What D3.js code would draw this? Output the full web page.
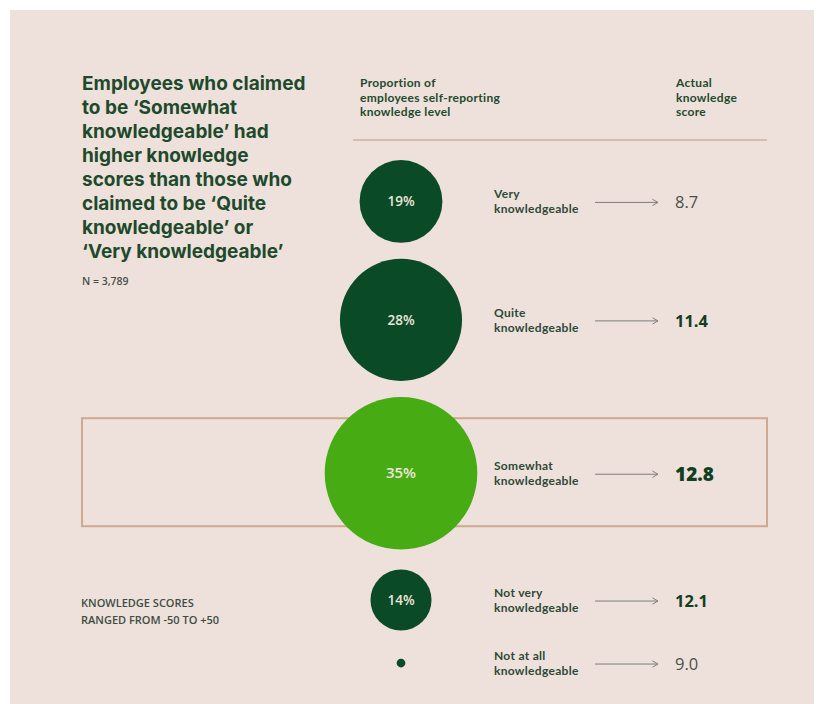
<!DOCTYPE html>
<html><head><meta charset="utf-8">
<script src="https://cdn.jsdelivr.net/npm/d3@7"></script>
<style>
html,body{margin:0;padding:0;background:#fff;}
svg{display:block;}
</style>
</head><body>
<svg id="c" width="818" height="704"></svg>
<script>
// ---- data ----
const categories = ["Very knowledgeable","Quite knowledgeable","Somewhat knowledgeable","Not very knowledgeable","Not at all knowledgeable"];
const categoryLines = [["Very","knowledgeable"],["Quite","knowledgeable"],["Somewhat","knowledgeable"],["Not very","knowledgeable"],["Not at all","knowledgeable"]];
const proportions = [19, 28, 35, 14, 2];
const showPct = [true, true, true, true, false];
const scores = [8.7, 11.4, 12.8, 12.1, 9.0];
const titleLines = ["Employees who claimed","to be \u2018Somewhat","knowledgeable\u2019 had","higher knowledge","scores than those who","claimed to be \u2018Quite","knowledgeable\u2019 or","\u2018Very knowledgeable\u2019"];
const sampleNote = "N = 3,789";
const colHeadLeft = ["Proportion of","employees self-reporting","knowledge level"];
const colHeadRight = ["Actual","knowledge","score"];
const footNote = ["KNOWLEDGE SCORES","RANGED FROM -50 TO +50"];

// ---- drawing ----
const svg = d3.select("#c");
const dark = "#0b4a27", light = "#47ab13", textGreen = "#1e4a2c";
const font = "'Open Sans', sans-serif";
const titleFont = "Inter, 'Open Sans', sans-serif";
const labFont = "Lato, sans-serif";

svg.append("rect").attr("x",10).attr("y",10).attr("width",804).attr("height",694).attr("fill","#eee1dc");

const hi = d3.maxIndex(scores);
const r = d3.scaleLinear().domain([0, 35]).range([0, 76.3]);
const cx = 401;
// stack rows
const gap = 16, minStep = 63;
const cys = [];
proportions.forEach((p,i)=>{
  if(i===0){ cys.push(160 + r(p)); return; }
  let step = Math.max(r(proportions[i-1]) + r(p) + gap, minStep);
  if(i-1===hi) step += 4;
  cys.push(cys[i-1] + step);
});

// highlight box
svg.append("rect").attr("x",82).attr("y",cys[hi]-55).attr("width",685).attr("height",108)
  .attr("fill","none").attr("stroke","#cfa88f").attr("stroke-width",2);

// title
const tg = svg.append("text").attr("font-family",titleFont).attr("font-weight",700).attr("font-size",19).attr("fill",textGreen);
titleLines.forEach((t,i)=>tg.append("tspan").attr("x",82).attr("y",90+24*i).text(t));
svg.append("text").attr("x",82).attr("y",285).attr("font-family",font).attr("font-weight",600)
  .attr("font-size",10.5).attr("fill","#4a4f4a").text(sampleNote);

// column headers
function block(lines, x, y0, step, size){
  const t = svg.append("text").attr("font-family",labFont).attr("font-weight",700).attr("font-size",size)
    .attr("letter-spacing",0.3).attr("fill",textGreen);
  lines.forEach((l,i)=>t.append("tspan").attr("x",x).attr("y",y0+step*i).text(l));
  return t;
}
block(colHeadLeft, 360, 87, 14.5, 12);
block(colHeadRight, 676, 87, 14.5, 12);
svg.append("line").attr("x1",353).attr("x2",767).attr("y1",140).attr("y2",140).attr("stroke","#d6bcad").attr("stroke-width",2);

// arrow marker
svg.append("defs").append("marker").attr("id","arr").attr("viewBox","0 0 10 10").attr("refX",9).attr("refY",5)
  .attr("markerWidth",8).attr("markerHeight",8).attr("orient","auto").attr("markerUnits","userSpaceOnUse")
  .append("path").attr("d","M2,1 L9,5 L2,9").attr("fill","none").attr("stroke","#7d7d7a").attr("stroke-width",1.2);

const rows = svg.selectAll("g.row").data(proportions).join("g").attr("class","row");
rows.append("circle").attr("cx",cx).attr("cy",(d,i)=>cys[i]).attr("r",d=>r(d))
  .attr("fill",(d,i)=>i===hi?light:dark);
rows.filter((d,i)=>showPct[i]).append("text").attr("x",cx).attr("y",(d,i)=>cys[i]+5)
  .attr("text-anchor","middle").attr("font-family",font).attr("font-weight",600)
  .attr("font-size",(d,i)=>i===hi?15:13.5).attr("fill","#ece6dc").text(d=>d+"%");

rows.each(function(d,i){
  const g = d3.select(this);
  const t = g.append("text").attr("font-family",labFont).attr("font-weight",700).attr("font-size",12)
    .attr("letter-spacing",0.3).attr("fill","#2c4a36");
  categoryLines[i].forEach((l,j)=>t.append("tspan").attr("x",494).attr("y",cys[i]-3+15*j).text(l));
  g.append("line").attr("x1",595).attr("x2",658).attr("y1",cys[i]+1).attr("y2",cys[i]+1)
    .attr("stroke","#7d7d7a").attr("stroke-width",1).attr("marker-end","url(#arr)");
  const v = scores[i];
  g.append("text").attr("x",675).attr("y",cys[i]+(i===hi?8:7))
    .attr("font-family",font).attr("font-weight",i===hi?800:(v>10?700:400))
    .attr("font-size",i===hi?19:16.5).attr("fill",v>10?"#123f22":"#4a5048")
    .text(d3.format(".1f")(v));
});

const fn = svg.append("text").attr("font-family",font).attr("font-weight",600).attr("font-size",11).attr("fill","#3c4d42");
footNote.forEach((t,i)=>fn.append("tspan").attr("x",81).attr("y",607+17*i).text(t));
</script>
</body></html>
